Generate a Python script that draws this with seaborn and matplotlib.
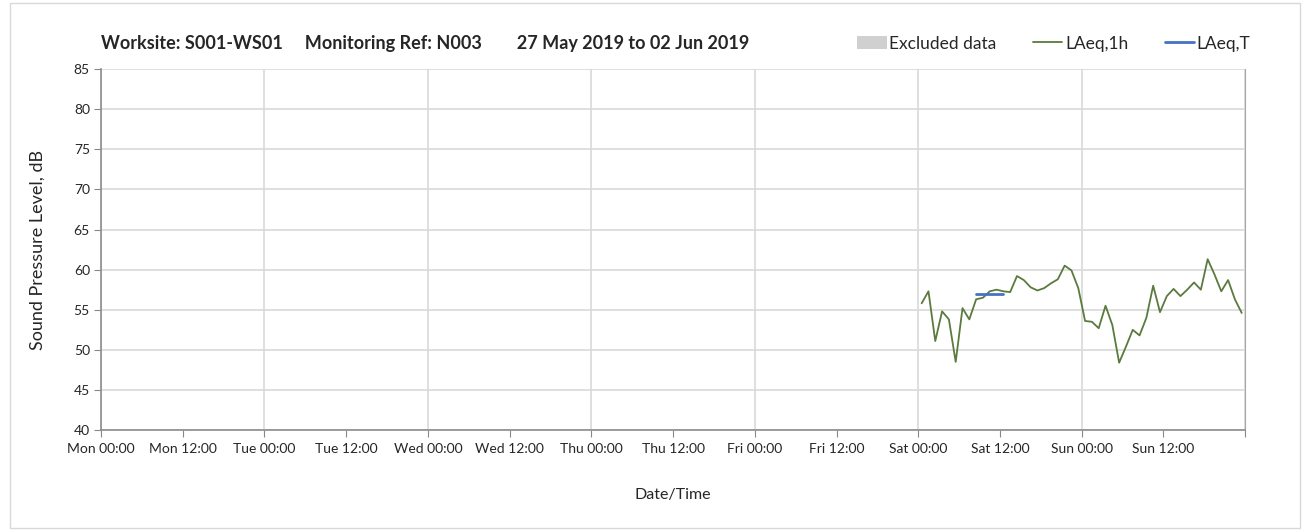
import pandas as pd
import matplotlib
matplotlib.use("Agg")
import matplotlib.pyplot as plt
import matplotlib.dates as mdates
from matplotlib.patches import Patch, Rectangle
from matplotlib.lines import Line2D
import seaborn as sns

# Hourly LAeq,1h values (Sat 01 Jun 00:30 onwards)
laeq_1h_start = "2019-06-01 00:30"
laeq_1h = [55.8, 57.3, 51.1, 54.8, 53.8, 48.5, 55.2, 53.8,
           56.3, 56.5, 57.3, 57.5, 57.3, 57.2, 59.2, 58.7,
           57.8, 57.4, 57.7, 58.3, 58.8, 60.5, 59.9, 57.7,
           53.6, 53.5, 52.7, 55.5, 53.1, 48.4, 50.4, 52.5,
           51.8, 54.0, 58.0, 54.7, 56.7, 57.6, 56.7, 57.5,
           58.4, 57.5, 61.3, 59.4, 57.3, 58.7, 56.3, 54.6]

# LAeq,T period
laeq_t_times = ["2019-06-01 08:30", "2019-06-01 12:30"]
laeq_t_values = [57.0, 57.0]

x_start = "2019-05-27 00:00"
x_end = "2019-06-03 00:00"
title_text = "Worksite: S001-WS01     Monitoring Ref: N003        27 May 2019 to 02 Jun 2019"

df = pd.DataFrame({
    "time": pd.date_range(laeq_1h_start, periods=len(laeq_1h), freq="h"),
    "level": laeq_1h,
})
df_t = pd.DataFrame({"time": pd.to_datetime(laeq_t_times), "level": laeq_t_values})

sns.set_style("white")
plt.rcParams["font.family"] = ["Lato", "DejaVu Sans"]

green = "#5a7a3e"
blue = "#4472c4"

fig = plt.figure(figsize=(13.09, 5.31), dpi=100)
ax = fig.add_axes([0.0772, 0.19, 0.874, 0.68])

sns.lineplot(data=df, x="time", y="level", ax=ax, color=green, linewidth=1.3)
sns.lineplot(data=df_t, x="time", y="level", ax=ax, color=blue, linewidth=2)

ax.set_xlim(pd.Timestamp(x_start), pd.Timestamp(x_end))
ax.set_ylim(40, 85)
ax.set_yticks(range(40, 86, 5))

ax.xaxis.set_major_locator(mdates.HourLocator(byhour=[0, 12]))
ax.xaxis.set_major_formatter(mdates.DateFormatter("%a %H:%M"))
ax.xaxis.set_minor_locator(mdates.DayLocator())
ax.xaxis.remove_overlapping_locs = False
ax.tick_params(axis="x", which="major", length=5, color="#888888", labelsize=10, pad=4, direction="out", bottom=True)
ax.tick_params(axis="x", which="minor", length=0)
ax.tick_params(axis="y", length=5, color="#888888", labelsize=10, pad=3, direction="out", left=True)

ax.grid(True, axis="y", color="#d9d9d9", linewidth=1.2)
ax.grid(True, axis="x", which="minor", color="#d9d9d9", linewidth=1.2)
ax.grid(False, axis="x", which="major")
ax.set_axisbelow(True)

# no label on the closing Mon 00:00 tick
fig.canvas.draw()
ax.get_xticklabels()[-1].set_visible(False)

for side in ["left", "bottom"]:
    ax.spines[side].set_color("#8c8c8c")
    ax.spines[side].set_linewidth(1.2)
ax.spines["right"].set_color("#a6a6a6")
ax.spines["top"].set_visible(False)

ax.set_xlabel("Date/Time", fontsize=11.5, labelpad=24)
ax.set_ylabel("Sound Pressure Level, dB", fontsize=13, labelpad=20)

fig.text(0.077, 0.918, title_text, fontsize=13, fontweight="bold", ha="left", va="center")

handles = [
    Patch(facecolor="#d0d0d0", edgecolor="none"),
    Line2D([0], [0], color=green, linewidth=1.3),
    Line2D([0], [0], color=blue, linewidth=2),
]
fig.legend(handles, ["Excluded data", "LAeq,1h", "LAeq,T"], loc="center right",
           bbox_to_anchor=(0.962, 0.918), ncol=3, frameon=False, fontsize=12.5,
           handlelength=1.7, handletextpad=0.15, columnspacing=2.1, borderpad=0)

fig.patches.append(Rectangle((0.008, 0.005), 0.985, 0.99, transform=fig.transFigure,
                             fill=False, edgecolor="#d9d9d9", linewidth=1))

fig.savefig("out.png", dpi=100)
